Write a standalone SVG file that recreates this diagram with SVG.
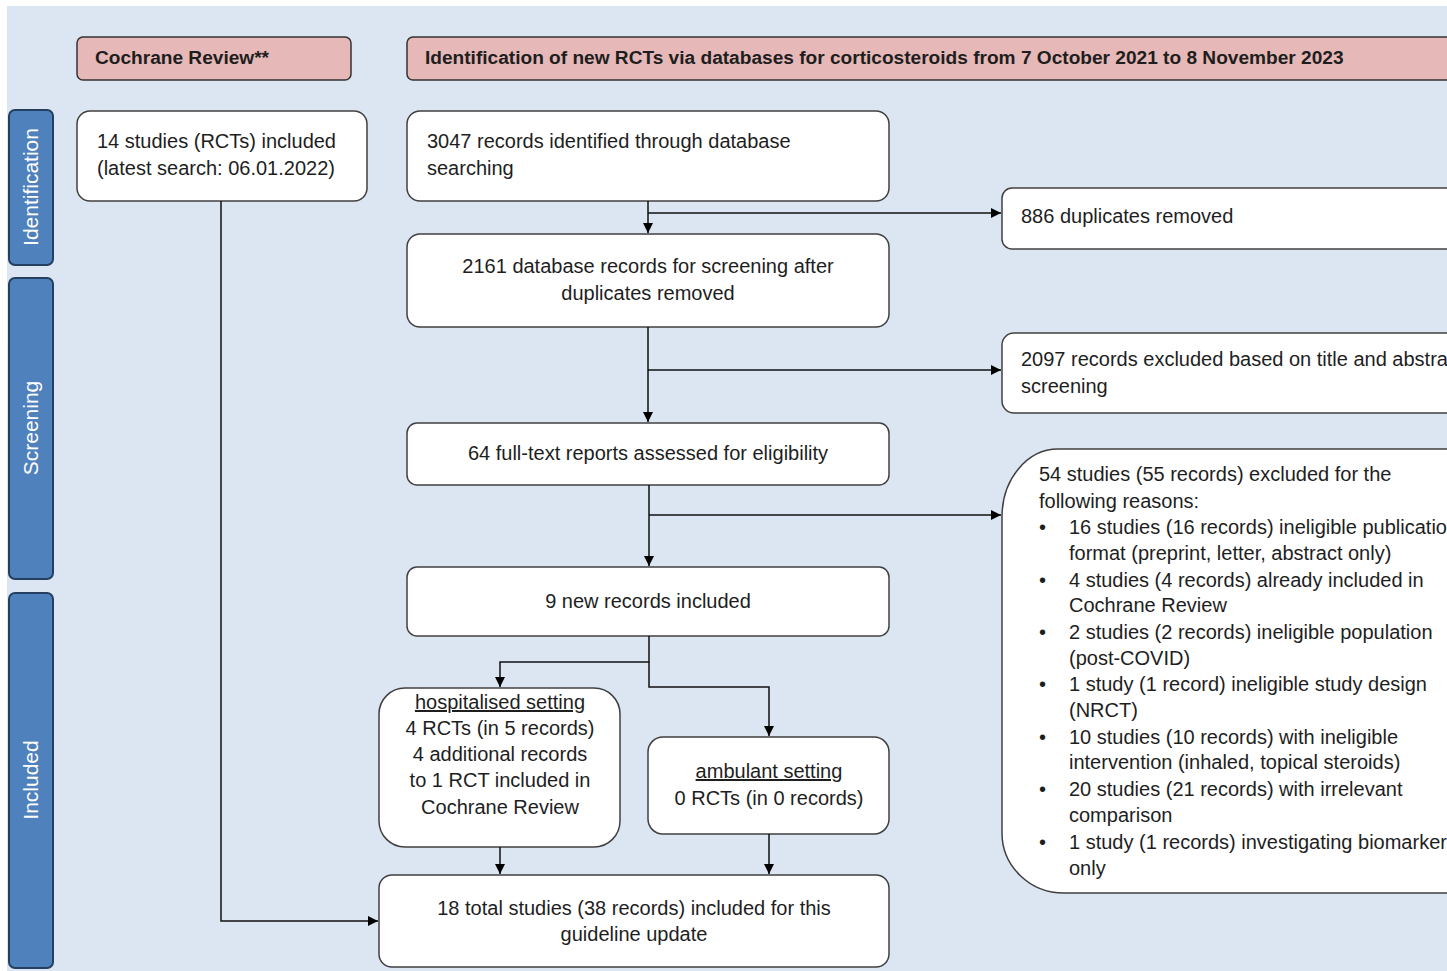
<svg xmlns="http://www.w3.org/2000/svg" width="1447" height="971" viewBox="0 0 1447 971">
<style>
text{font-family:"Liberation Sans",Arial,sans-serif;font-size:20px;fill:#1e1e1e}
.b{font-weight:bold;font-size:19.1px}
.c{text-anchor:middle}
.side rect{fill:#4f81bd;stroke:#243f60;stroke-width:2}
.side text{fill:#ffffff;font-size:21px;text-anchor:middle}
.hdr{fill:#e6b8b7;stroke:#333;stroke-width:1.5}
.box{fill:#ffffff;stroke:#404040;stroke-width:1.5}
.ln{fill:none;stroke:#111;stroke-width:1.5}
.u{text-decoration:underline}
</style>
<defs>
<marker id="ah" viewBox="0 0 10 10" refX="10" refY="5" markerWidth="10" markerHeight="10" markerUnits="userSpaceOnUse" orient="auto">
<path d="M0,0 L10,5 L0,10 Z" fill="#000"/>
</marker>
</defs>
<rect x="0" y="0" width="1447" height="971" fill="#ffffff"/>
<rect x="7" y="6" width="1440" height="965" fill="#dce6f2"/>

<g id="side-identification" class="side"><rect x="9" y="110" width="44" height="155" rx="6"/><text transform="translate(38,187) rotate(-90)">Identification</text></g>
<g id="side-screening" class="side"><rect x="9" y="278" width="44" height="301" rx="6"/><text transform="translate(38,428) rotate(-90)">Screening</text></g>
<g id="side-included" class="side"><rect x="9" y="593" width="44" height="375" rx="6"/><text transform="translate(38,780) rotate(-90)">Included</text></g>

<g id="hdr-cochrane"><rect class="hdr" x="77" y="37" width="274" height="43" rx="6"/><text class="b" x="95" y="64">Cochrane Review**</text></g>
<g id="hdr-new"><rect class="hdr" x="407" y="37" width="1060" height="43" rx="6"/><text class="b" x="425" y="64">Identification of new RCTs via databases for corticosteroids from 7 October 2021 to 8 November 2023</text></g>

<g id="n-cochrane14"><rect class="box" x="77" y="111" width="290" height="90" rx="13"/><text x="97" y="148">14 studies (RCTs) included</text><text x="97" y="175">(latest search: 06.01.2022)</text></g>
<g id="n-3047"><rect class="box" x="407" y="111" width="482" height="90" rx="13"/><text x="427" y="148">3047 records identified through database</text><text x="427" y="175">searching</text></g>
<g id="n-886"><rect class="box" x="1002" y="188" width="470" height="61" rx="10"/><text x="1021" y="223">886 duplicates removed</text></g>
<g id="n-2161"><rect class="box" x="407" y="234" width="482" height="93" rx="13"/><text class="c" x="648" y="273">2161 database records for screening after</text><text class="c" x="648" y="300">duplicates removed</text></g>
<g id="n-2097"><rect class="box" x="1002" y="333" width="470" height="80" rx="12"/><text x="1021" y="366">2097 records excluded based on title and abstract</text><text x="1021" y="393">screening</text></g>
<g id="n-64"><rect class="box" x="407" y="423" width="482" height="62" rx="10"/><text class="c" x="648" y="460">64 full-text reports assessed for eligibility</text></g>
<g id="n-54">
<path class="box" d="M1058,449 H1472 V893 H1064 A62,60 0 0 1 1002,833 V517 A56,68 0 0 1 1058,449 Z"/>
<text x="1039" y="481">54 studies (55 records) excluded for the</text>
<text x="1039" y="508">following reasons:</text>
<text x="1039" y="534">•</text><text x="1069" y="534">16 studies (16 records) ineligible publication</text>
<text x="1069" y="560">format (preprint, letter, abstract only)</text>
<text x="1039" y="587">•</text><text x="1069" y="587">4 studies (4 records) already included in</text>
<text x="1069" y="612">Cochrane Review</text>
<text x="1039" y="639">•</text><text x="1069" y="639">2 studies (2 records) ineligible population</text>
<text x="1069" y="665">(post-COVID)</text>
<text x="1039" y="691">•</text><text x="1069" y="691">1 study (1 record) ineligible study design</text>
<text x="1069" y="717">(NRCT)</text>
<text x="1039" y="744">•</text><text x="1069" y="744">10 studies (10 records) with ineligible</text>
<text x="1069" y="769">intervention (inhaled, topical steroids)</text>
<text x="1039" y="796">•</text><text x="1069" y="796">20 studies (21 records) with irrelevant</text>
<text x="1069" y="822">comparison</text>
<text x="1039" y="849">•</text><text x="1069" y="849">1 study (1 records) investigating biomarker</text>
<text x="1069" y="875">only</text>
</g>
<g id="n-9"><rect class="box" x="407" y="567" width="482" height="69" rx="10"/><text class="c" x="648" y="608">9 new records included</text></g>
<g id="n-hosp"><rect class="box" x="379" y="688" width="241" height="159" rx="26"/>
<text class="c u" x="500" y="709">hospitalised setting</text>
<text class="c" x="500" y="735">4 RCTs (in 5 records)</text>
<text class="c" x="500" y="761">4 additional records</text>
<text class="c" x="500" y="787">to 1 RCT included in</text>
<text class="c" x="500" y="814">Cochrane Review</text></g>
<g id="n-amb"><rect class="box" x="648" y="737" width="241" height="97" rx="15"/>
<text class="c u" x="769" y="778">ambulant setting</text>
<text class="c" x="769" y="805">0 RCTs (in 0 records)</text></g>
<g id="n-18"><rect class="box" x="379" y="875" width="510" height="92" rx="13"/>
<text class="c" x="634" y="915">18 total studies (38 records) included for this</text>
<text class="c" x="634" y="941">guideline update</text></g>

<g id="connectors">
<path class="ln" d="M648,201 V233" marker-end="url(#ah)"/>
<path class="ln" d="M648,213 H1001" marker-end="url(#ah)"/>
<path class="ln" d="M648,327 V422" marker-end="url(#ah)"/>
<path class="ln" d="M648,370 H1001" marker-end="url(#ah)"/>
<path class="ln" d="M649,485 V566" marker-end="url(#ah)"/>
<path class="ln" d="M649,515 H1001" marker-end="url(#ah)"/>
<path class="ln" d="M649,636 V662 H500 V687" marker-end="url(#ah)"/>
<path class="ln" d="M649,662 V687 H769 V736" marker-end="url(#ah)"/>
<path class="ln" d="M500,847 V874" marker-end="url(#ah)"/>
<path class="ln" d="M769,834 V874" marker-end="url(#ah)"/>
<path class="ln" d="M221,201 V921 H378" marker-end="url(#ah)"/>
</g>
</svg>
